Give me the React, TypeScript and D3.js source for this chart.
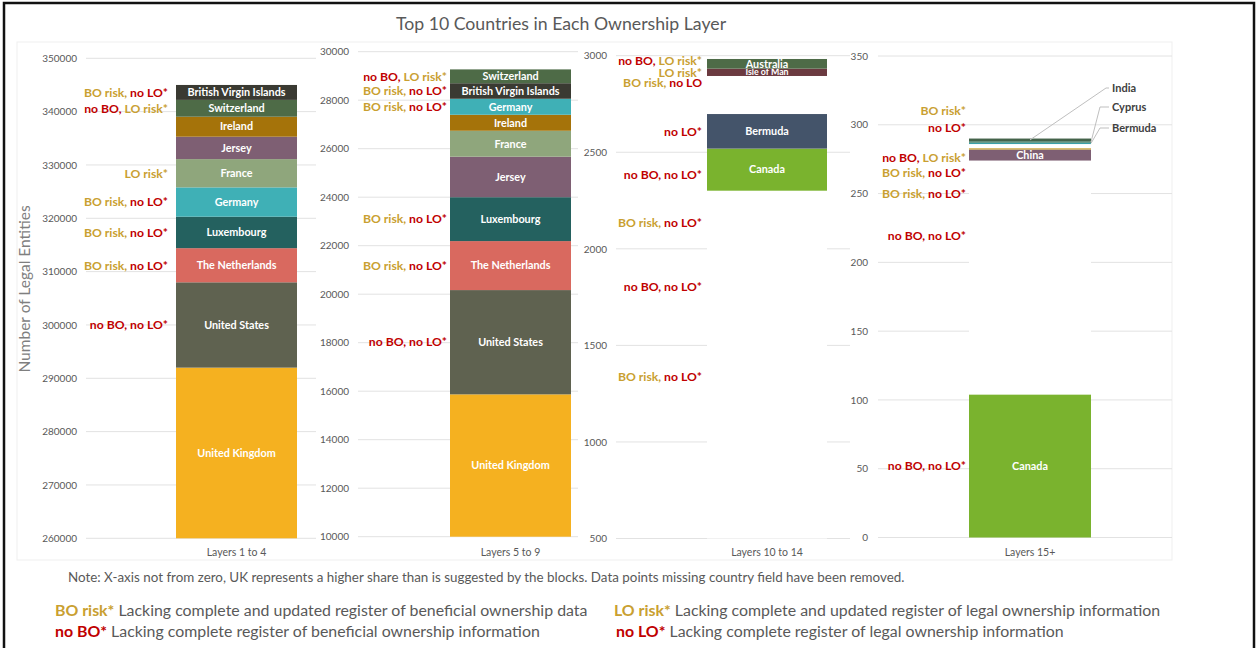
import { useEffect, useRef } from "react";
import * as d3 from "d3";

const GOLD = "#c9a031";
const RED = "#c00000";
const WHITE = "#ffffff";

// Layers 1 to 4 (bottom to top)
const layer1Countries = ["United Kingdom", "United States", "The Netherlands", "Luxembourg", "Germany", "France", "Jersey", "Ireland", "Switzerland", "British Virgin Islands"];
const layer1Values = [292000, 16000, 6400, 5900, 5500, 5300, 4200, 3750, 3150, 2800];
const layer1Colors = ["#f5b120", "#5f6250", "#d9695f", "#24615f", "#3fb0b6", "#8fa67c", "#7e5f73", "#a5730a", "#4e6b47", "#3a3a32"];
const layer1Tags = ["", "no BO, no LO*", "BO risk, no LO*", "BO risk, no LO*", "BO risk, no LO*", "LO risk*", "", "", "no BO, LO risk*", "BO risk, no LO*"];

// Layers 5 to 9
const layer2Countries = ["United Kingdom", "United States", "The Netherlands", "Luxembourg", "Jersey", "France", "Ireland", "Germany", "British Virgin Islands", "Switzerland"];
const layer2Values = [15870, 4300, 2020, 1810, 1670, 1070, 660, 660, 640, 570];
const layer2Colors = ["#f5b120", "#5f6250", "#d9695f", "#24615f", "#7e5f73", "#8fa67c", "#a5730a", "#3fb0b6", "#3a3a32", "#4e6b47"];
const layer2Tags = ["", "no BO, no LO*", "BO risk, no LO*", "BO risk, no LO*", "", "", "", "BO risk, no LO*", "BO risk, no LO*", "no BO, LO risk*"];

// Layers 10 to 14 (white blocks: country names not shown)
const layer3Countries = ["", "", "", "", "Canada", "Bermuda", "", "", "Isle of Man", "Australia"];
const layer3Values = [1037, 602, 330, 332, 218, 179, 127, 70, 38, 50];
const layer3Colors = [WHITE, WHITE, WHITE, WHITE, "#7ab32e", "#44546a", WHITE, WHITE, "#6b3a40", "#4e6b47"];
const layer3Tags = ["", "BO risk, no LO*", "no BO, no LO*", "BO risk, no LO*", "no BO, no LO*", "no LO*", "", "BO risk, no LO", "LO risk*", "no BO, LO risk*"];
const layer3TagAt = [null, 1338, 1804, 2135, 2382, 2608, null, 2860, 2912, 2974];

// Layers 15+
const layer4Countries = ["Canada", "", "", "", "China", "", "", "Bermuda", "Cyprus", "India"];
const layer4Values = [104, 138, 16, 16, 8, 1, 3, 1, 1, 2];
const layer4Colors = ["#7ab32e", WHITE, WHITE, WHITE, "#7e5f73", "#c9a031", WHITE, "#3aa0a6", "#3d7a63", "#44634a"];
const layer4Tags = ["no BO, no LO*", "no BO, no LO*", "BO risk, no LO*", "BO risk, no LO*", "no BO, LO risk*", "", "", "", "no LO*", "BO risk*"];
const layer4TagAt = [52, 219, 250, 265, 276, null, null, null, 298, 310];
const layer4Callouts = ["India", "Cyprus", "Bermuda"];

const panels = [
  { category: "Layers 1 to 4", countries: layer1Countries, values: layer1Values, colors: layer1Colors, tags: layer1Tags, tagAt: null as (number | null)[] | null, domain: [260000, 350000], step: 10000 },
  { category: "Layers 5 to 9", countries: layer2Countries, values: layer2Values, colors: layer2Colors, tags: layer2Tags, tagAt: null, domain: [10000, 30000], step: 2000 },
  { category: "Layers 10 to 14", countries: layer3Countries, values: layer3Values, colors: layer3Colors, tags: layer3Tags, tagAt: layer3TagAt, domain: [500, 3000], step: 500 },
  { category: "Layers 15+", countries: layer4Countries, values: layer4Values, colors: layer4Colors, tags: layer4Tags, tagAt: layer4TagAt, domain: [0, 350], step: 50 },
];

// pixel layout per panel
const layout = [
  { top: 58.3, bottom: 538.3, tickX: 77, grid0: 86, grid1: 316, barX: 176, barW: 121, tagX: 168 },
  { top: 51.7, bottom: 536.7, tickX: 349, grid0: 358, grid1: 578, barX: 450, barW: 121, tagX: 447 },
  { top: 55.7, bottom: 538.5, tickX: 607, grid0: 616, grid1: 850, barX: 707, barW: 120, tagX: 702 },
  { top: 56, bottom: 537.5, tickX: 868, grid0: 878, grid1: 1172, barX: 969, barW: 122, tagX: 966 },
];

const FONT = "Lato, 'Open Sans', sans-serif";

export default function App() {
  const svgRef = useRef<SVGSVGElement | null>(null);

  useEffect(() => {
    const svg = d3.select(svgRef.current);
    svg.selectAll("*").remove();

    svg.append("rect").attr("x", 0).attr("y", 0).attr("width", 1258).attr("height", 648).attr("fill", "#fff");
    svg.append("rect").attr("x", 4).attr("y", 3).attr("width", 1250).attr("height", 700)
      .attr("fill", "none").attr("stroke", "#111").attr("stroke-width", 2.5);
    svg.append("rect").attr("x", 17).attr("y", 42).attr("width", 1155).attr("height", 518)
      .attr("fill", "none").attr("stroke", "#efefef");

    svg.append("text")
      .attr("x", 561).attr("y", 30)
      .attr("text-anchor", "middle")
      .style("font-family", FONT).style("font-size", "17.7px").attr("fill", "#595959")
      .text("Top 10 Countries in Each Ownership Layer");

    svg.append("text")
      .attr("transform", "translate(30,289) rotate(-90)")
      .attr("text-anchor", "middle")
      .style("font-family", FONT).style("font-size", "15.5px").attr("fill", "#7f7f7f")
      .text("Number of Legal Entities");

    const defs = svg.append("defs");

    panels.forEach((p, pi) => {
      const L = layout[pi];
      const y = d3.scaleLinear().domain(p.domain).range([L.bottom, L.top]).clamp(true);
      const g = svg.append("g");

      // gridlines
      const ticks = d3.range(p.domain[0], p.domain[1] + p.step / 2, p.step);
      g.selectAll("line.grid").data(ticks).enter().append("line")
        .attr("x1", L.grid0).attr("x2", L.grid1)
        .attr("y1", d => y(d)).attr("y2", d => y(d))
        .attr("stroke", "#e2e2e2").attr("stroke-width", 1);

      // axis labels
      const axis = d3.axisLeft(y).tickValues(ticks).tickSize(0).tickPadding(0).tickFormat(d3.format("d"));
      const ax = g.append("g").attr("transform", `translate(${L.tickX},0)`).call(axis);
      ax.select(".domain").remove();
      ax.selectAll("text")
        .style("font-family", FONT).style("font-size", "10px").attr("fill", "#595959");

      // stacked segments
      const tops = Array.from(d3.cumsum(p.values));
      const segs = p.values.map((v, i) => ({
        name: p.countries[i], color: p.colors[i], tag: p.tags[i],
        y0: tops[i] - v, y1: tops[i],
        tagAt: p.tagAt ? p.tagAt[i] : (tops[i] - v / 2),
      }));

      g.selectAll("rect.seg").data(segs).enter().append("rect")
        .attr("x", L.barX).attr("width", L.barW)
        .attr("y", d => y(d.y1))
        .attr("height", d => y(d.y0) - y(d.y1))
        .attr("fill", d => d.color);

      segs.forEach((s, si) => {
        const h = y(s.y0) - y(s.y1);
        if (s.name && h >= 6) {
          const id = `clip-${pi}-${si}`;
          defs.append("clipPath").attr("id", id).append("rect")
            .attr("x", L.barX).attr("width", L.barW).attr("y", y(s.y1)).attr("height", h);
          g.append("text")
            .attr("clip-path", `url(#${id})`)
            .attr("x", L.barX + L.barW / 2).attr("y", (y(s.y0) + y(s.y1)) / 2)
            .attr("dy", "0.35em").attr("text-anchor", "middle")
            .style("font-family", FONT).style("font-size", `${Math.min(10.8, h + 1.5)}px`).style("font-weight", "bold")
            .attr("fill", "#fff")
            .text(s.name);
        }
        if (s.tag && s.tagAt != null) {
          const t = g.append("text")
            .attr("x", L.tagX).attr("y", y(s.tagAt)).attr("dy", "0.35em")
            .attr("text-anchor", "end")
            .style("font-family", FONT).style("font-size", "12.2px").style("font-weight", "bold");
          const parts = s.tag.split(", ");
          parts.forEach((part, k) => {
            t.append("tspan")
              .attr("fill", part.startsWith("no") ? RED : GOLD)
              .text(part + (k < parts.length - 1 ? ", " : ""));
          });
        }
      });

      // category label
      g.append("text")
        .attr("x", L.barX + L.barW / 2).attr("y", 556)
        .attr("text-anchor", "middle")
        .style("font-family", FONT).style("font-size", "10.5px").attr("fill", "#595959")
        .text(p.category);

      // callouts for thin blocks in Layers 15+
      if (pi === 3) {
        const textY = [88, 107, 128];
        layer4Callouts.forEach((name, k) => {
          const s = segs.find(d => d.name === name)!;
          const sy = y((s.y0 + s.y1) / 2);
          const sx = k === 0 ? L.barX + L.barW / 2 : L.barX + L.barW;
          const bend = k === 0 ? 1106 : 1100;
          g.append("polyline")
            .attr("points", `${sx},${sy} ${bend},${textY[k]} ${1109},${textY[k]}`)
            .attr("fill", "none").attr("stroke", "#bfbfbf").attr("stroke-width", 1);
          g.append("text")
            .attr("x", 1112).attr("y", textY[k]).attr("dy", "0.35em")
            .style("font-family", FONT).style("font-size", "11px").style("font-weight", "bold")
            .attr("fill", "#404040")
            .text(name);
        });
      }
    });

    svg.append("text")
      .attr("x", 68).attr("y", 582)
      .style("font-family", FONT).style("font-size", "13.4px").attr("fill", "#595959")
      .text("Note: X-axis not from zero, UK represents a higher share than is suggested by the blocks. Data points missing country field have been removed.");

    const legend = [
      { x: 55, y: 616, key: "BO risk*", color: GOLD, text: " Lacking complete and updated register of beneficial ownership data" },
      { x: 55, y: 637, key: "no BO*", color: RED, text: " Lacking complete register of beneficial ownership information" },
      { x: 614, y: 616, key: "LO risk*", color: GOLD, text: " Lacking complete and updated register of legal ownership information" },
      { x: 616, y: 637, key: "no LO*", color: RED, text: " Lacking complete register of legal ownership information" },
    ];
    legend.forEach(l => {
      const t = svg.append("text").attr("x", l.x).attr("y", l.y)
        .style("font-family", FONT).style("font-size", "15.9px").attr("fill", "#595959");
      t.append("tspan").attr("fill", l.color).style("font-weight", "bold").text(l.key);
      t.append("tspan").text(l.text);
    });
  }, []);

  return (
    <svg ref={svgRef} width={1258} height={648}
      style={{ position: "absolute", left: 0, top: 0, background: "#fff" }} />
  );
}
